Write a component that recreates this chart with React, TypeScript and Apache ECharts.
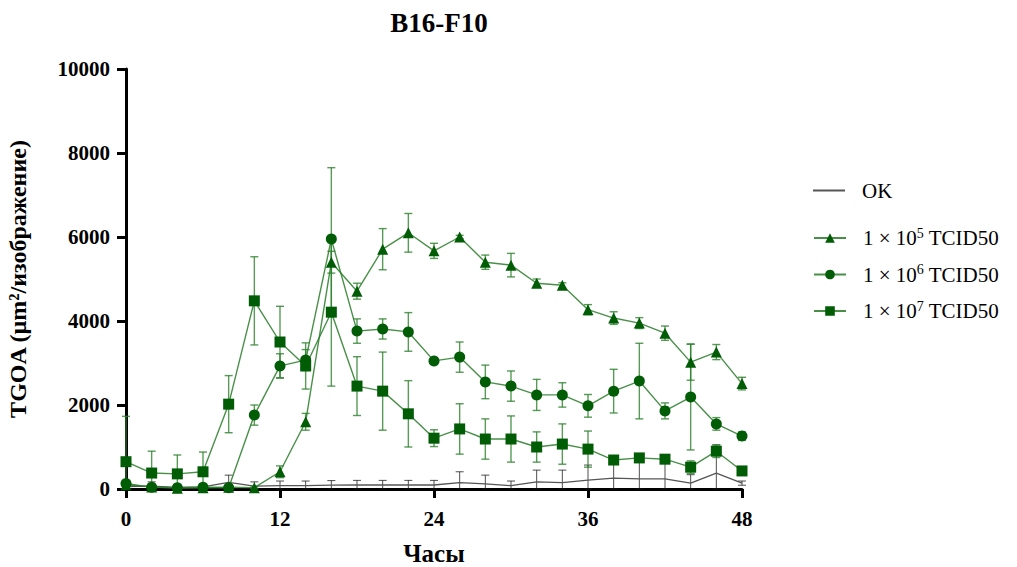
import React, { useEffect, useRef } from "react";
import * as echarts from "echarts";

const hours = [0, 2, 4, 6, 8, 10, 12, 14, 16, 18, 20, 22, 24, 26, 28, 30, 32, 34, 36, 38, 40, 42, 44, 46, 48];
const xTicks = [0, 12, 24, 36, 48];
const seriesNames = ["OK", "1 × 10⁵ TCID50", "1 × 10⁶ TCID50", "1 × 10⁷ TCID50"];
const superscripts = ["", "5", "6", "7"];

const okMean = [60, 70, 40, 50, 160, 70, 80, 80, 90, 95, 95, 95, 95, 150, 120, 80, 170, 150, 210, 260, 240, 240, 140, 380, 140];
const okErr = [100, 100, 50, 80, 170, 100, 110, 110, 110, 110, 110, 110, 110, 260, 210, 110, 280, 300, 360, 460, 460, 460, 200, 670, 50];

const e5Mean = [100, 50, 20, 30, 40, 30, 410, 1600, 5400, 4710, 5710, 6100, 5670, 6000, 5400, 5330, 4900, 4850, 4270, 4070, 3950, 3710, 3020, 3260, 2510];
const e5Err = [0, 30, 20, 20, 30, 20, 140, 200, 260, 190, 490, 460, 180, 40, 170, 280, 100, 60, 120, 150, 130, 170, 430, 180, 150];

const e6Mean = [130, 40, 30, 40, 30, 1760, 2930, 3070, 5950, 3760, 3810, 3740, 3050, 3140, 2550, 2450, 2240, 2240, 1980, 2330, 2570, 1860, 2190, 1550, 1260];
const e6Err = [0, 30, 30, 30, 30, 240, 290, 250, 1700, 290, 240, 460, 60, 360, 400, 360, 370, 290, 270, 520, 900, 190, 1260, 150, 100];

const e7Mean = [650, 380, 360, 410, 2020, 4480, 3500, 2930, 4210, 2450, 2330, 1790, 1210, 1430, 1190, 1190, 1000, 1070, 950, 690, 740, 710, 520, 900, 430];
const e7Err = [1080, 520, 450, 470, 680, 1050, 850, 550, 1760, 700, 930, 790, 200, 600, 480, 550, 360, 480, 430, 100, 80, 80, 150, 150, 50];

const FONT = "'Liberation Serif', 'Times New Roman', serif";
const MARK = "#005c05";
const LINE = "rgba(40,125,40,0.85)";
const ERR = "rgba(45,130,45,0.8)";

function pairs(means: number[]) {
  return hours.map((h, i) => [h, means[i]]);
}
function errData(means: number[], errs: number[]) {
  return hours.map((h, i) => [h, means[i] - errs[i], means[i] + errs[i]]);
}
function errSeries(means: number[], errs: number[], color: string, width: number) {
  return {
    type: "custom",
    silent: true,
    z: 3,
    data: errData(means, errs),
    encode: { x: 0, y: [1, 2] },
    renderItem: (params: any, api: any) => {
      const x = api.value(0);
      const lo = api.coord([x, Math.max(0, api.value(1))]);
      const hi = api.coord([x, api.value(2)]);
      const hw = 4;
      const style = { stroke: color, lineWidth: width };
      return {
        type: "group",
        children: [
          { type: "line", shape: { x1: lo[0], y1: lo[1], x2: hi[0], y2: hi[1] }, style },
          { type: "line", shape: { x1: hi[0] - hw, y1: hi[1], x2: hi[0] + hw, y2: hi[1] }, style },
          { type: "line", shape: { x1: lo[0] - hw, y1: lo[1], x2: lo[0] + hw, y2: lo[1] }, style },
        ],
      };
    },
  };
}

export default function App() {
  const ref = useRef<HTMLDivElement>(null);
  useEffect(() => {
    if (!ref.current) return;
    const chart = echarts.init(ref.current, undefined, { renderer: "svg" });
    const legendFormatter = (name: string) => {
      const idx = seriesNames.indexOf(name);
      if (idx <= 0) return "{a|" + name + "}";
      return "{a|1 × 10}{s|" + superscripts[idx] + "}{a| TCID50}";
    };
    const legendText = {
      fontFamily: FONT,
      color: "#000",
      padding: [0, 0, 0, 12],
      rich: {
        a: { fontFamily: FONT, fontSize: 21, color: "#000", lineHeight: 24 },
        s: { fontFamily: FONT, fontSize: 14, color: "#000", verticalAlign: "top", lineHeight: 24 },
      },
    };
    chart.setOption({
      animation: false,
      backgroundColor: "#fff",
      title: {
        text: "B16-F10",
        left: 434,
        textAlign: "center",
        top: 4,
        textStyle: { fontFamily: FONT, fontWeight: "bold", fontSize: 27, color: "#000" },
      },
      legend: [
        {
          data: [{ name: seriesNames[0], icon: "rect" }],
          left: 808,
          top: 175,
          orient: "vertical",
          itemWidth: 32,
          itemHeight: 2,
          formatter: legendFormatter,
          textStyle: legendText,
        },
        {
          data: seriesNames.slice(1),
          left: 808,
          top: 221,
          orient: "vertical",
          itemGap: 14,
          itemWidth: 32,
          itemHeight: 12,
          formatter: legendFormatter,
          textStyle: legendText,
        },
      ],
      grid: { left: 126, right: 275, top: 69, bottom: 78, containLabel: false, outerBoundsMode: "none" },
      xAxis: {
        type: "value",
        min: 0,
        max: 48,
        interval: 12,
        name: "Часы",
        nameLocation: "middle",
        nameGap: 52,
        nameTextStyle: { fontFamily: FONT, fontWeight: "bold", fontSize: 25, color: "#000" },
        axisLine: { show: true, onZero: false, lineStyle: { color: "#000", width: 3 } },
        axisTick: { show: true, length: 9, lineStyle: { color: "#000", width: 3 } },
        axisLabel: {
          margin: 19,
          fontFamily: FONT,
          fontWeight: "bold",
          fontSize: 21,
          color: "#000",
          customValues: xTicks,
        },
        splitLine: { show: false },
      },
      yAxis: {
        type: "value",
        min: 0,
        max: 10000,
        interval: 2000,
        name: "TGOA (µm²/изображение)",
        nameLocation: "middle",
        nameGap: 96,
        nameTextStyle: { fontFamily: FONT, fontWeight: "bold", fontSize: 24, color: "#000" },
        axisLine: { show: true, lineStyle: { color: "#000", width: 3 } },
        axisTick: { show: true, length: 9, lineStyle: { color: "#000", width: 3 } },
        axisLabel: {
          margin: 16,
          fontFamily: FONT,
          fontWeight: "bold",
          fontSize: 21,
          color: "#000",
          formatter: (v: number) => String(v),
        },
        splitLine: { show: false },
      },
      series: [
        errSeries(okMean, okErr, "rgba(20,20,20,0.75)", 1),
        errSeries(e5Mean, e5Err, ERR, 1.4),
        errSeries(e6Mean, e6Err, ERR, 1.4),
        errSeries(e7Mean, e7Err, ERR, 1.4),
        {
          name: seriesNames[0],
          type: "line",
          data: pairs(okMean),
          symbol: "none",
          z: 4,
          lineStyle: { color: "#555", width: 1.3 },
          itemStyle: { color: "#555" },
        },
        {
          name: seriesNames[1],
          type: "line",
          data: pairs(e5Mean),
          symbol: "triangle",
          symbolSize: 11,
          z: 5,
          lineStyle: { color: LINE, width: 1.4 },
          itemStyle: { color: MARK },
        },
        {
          name: seriesNames[2],
          type: "line",
          data: pairs(e6Mean),
          symbol: "circle",
          symbolSize: 11,
          z: 5,
          lineStyle: { color: LINE, width: 1.4 },
          itemStyle: { color: MARK },
        },
        {
          name: seriesNames[3],
          type: "line",
          data: pairs(e7Mean),
          symbol: "rect",
          symbolSize: 11,
          z: 5,
          lineStyle: { color: LINE, width: 1.4 },
          itemStyle: { color: MARK },
        },
      ],
    });
    return () => chart.dispose();
  }, []);
  return <div ref={ref} style={{ width: 1017, height: 567, position: "absolute", left: 0, top: 0 }} />;
}
